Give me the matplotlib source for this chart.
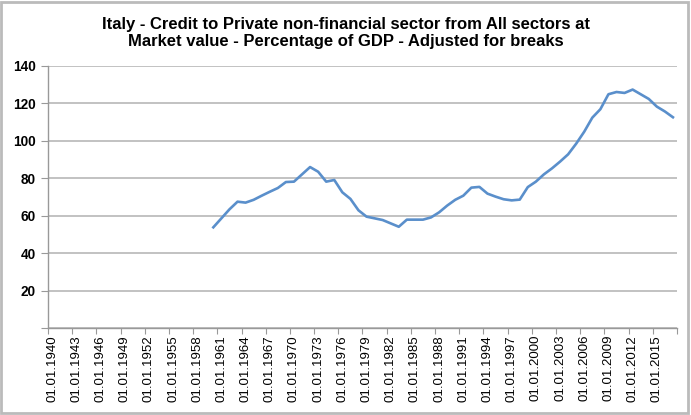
import matplotlib
matplotlib.use('Agg')
import matplotlib.pyplot as plt
from matplotlib.patches import Rectangle

plt.rcParams['font.family'] = ['Liberation Sans', 'DejaVu Sans']

# Categories: one per year, 1940..2017
first_year = 1940
last_year = 2017
years = list(range(first_year, last_year + 1))

# Values (data begins in 1960)
data_years = list(range(1960, 2018))
credit_pct = [
    53.8, 58.6, 63.4, 67.5, 67.0, 68.5, 70.7, 72.8, 74.8, 78.0,
    78.2, 82.1, 86.0, 83.5, 78.2, 79.1, 72.5, 69.0, 62.9, 59.5,
    58.6, 57.7, 55.9, 54.1, 57.9, 57.9, 57.9, 59.1, 61.8, 65.4,
    68.5, 70.7, 75.0, 75.4, 71.8, 70.2, 68.8, 68.2, 68.6, 75.3,
    78.2, 82.1, 85.3, 88.9, 92.8, 98.5, 104.9, 112.4, 116.9, 124.9,
    126.1, 125.6, 127.4, 124.9, 122.4, 118.3, 115.7, 112.6,
]
tick_years = list(range(1940, 2016, 3))
tick_labels = ['01.01.%d' % y for y in tick_years]

fig = plt.figure(figsize=(6.91, 4.15), dpi=100)
ax = fig.add_axes([0.0695, 0.2096, 0.9102, 0.6314])

# category positions: centre of each yearly slot
x = [y - first_year + 0.5 for y in data_years]
ax.plot(x, credit_pct, color='#5A8FCB', linewidth=1.9, solid_joinstyle='round')

ax.set_xlim(0, len(years))
ax.set_ylim(0, 140)

# y axis
ax.set_yticks(range(0, 141, 20))
ax.set_yticklabels([''] + [str(v) for v in range(20, 141, 20)],
                   fontsize=9.8, fontweight='bold')
ax.yaxis.grid(True, color='#BDBDBD', linewidth=1.3)
ax.set_axisbelow(True)

# x axis: tick marks between groups of 3 categories, labels centred on category
ax.set_xticks(range(0, len(years) + 1, 3))
ax.set_xticklabels([])
ax.set_xticks([y - first_year + 0.5 for y in tick_years], minor=True)
ax.set_xticklabels(tick_labels, minor=True, rotation=90, fontsize=9.5)
ax.tick_params(axis='x', which='minor', length=0, pad=5)
ax.tick_params(axis='x', which='major', length=4, color='#999999', direction='out')
ax.tick_params(axis='y', length=5, color='#999999', direction='out', pad=4)

for side in ['top', 'right']:
    ax.spines[side].set_visible(False)
for side in ['left', 'bottom']:
    ax.spines[side].set_color('#999999')
    ax.spines[side].set_linewidth(1.0)

fig.text(0.5, 0.96,
         'Italy - Credit to Private non-financial sector from All sectors at\n'
         'Market value - Percentage of GDP - Adjusted for breaks',
         ha='center', va='top', fontsize=12, fontweight='bold',
         linespacing=1.2)

# grey chart border
fig.patches.append(Rectangle((0.002, 0.004), 0.993, 0.992, transform=fig.transFigure,
                             fill=False, edgecolor='#BBBBBB', linewidth=2))

plt.savefig('out.png', dpi=100)
plt.close()
